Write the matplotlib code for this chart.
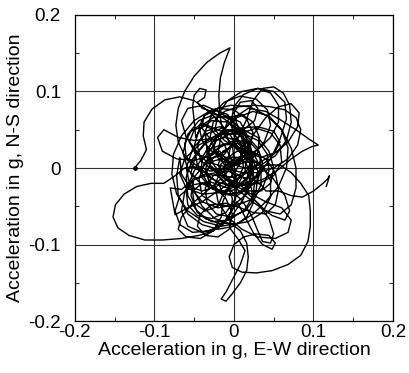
import numpy as np
import matplotlib
matplotlib.use("Agg")
import matplotlib.pyplot as plt
from matplotlib.ticker import MultipleLocator

# Acceleration orbit, (E-W, N-S) in g in pieces
seg_start = [(-0.125, 0.000), (-0.117, 0.010), (-0.110, 0.024), (-0.114, 0.042), (-0.113, 0.060),
             (-0.103, 0.077), (-0.087, 0.089), (-0.068, 0.093), (-0.050, 0.088), (-0.034, 0.076),
             (-0.018, 0.060), (-0.004, 0.042), (0.008, 0.022), (0.012, 0.002), (0.004, -0.018),
             (-0.012, -0.030), (-0.030, -0.026), (-0.042, -0.010), (-0.040, 0.010), (-0.028, 0.026),
             (-0.010, 0.032), (0.008, 0.026), (0.020, 0.010), (0.024, -0.012), (0.016, -0.034),
             (0.000, -0.048), (-0.020, -0.052), (-0.040, -0.044), (-0.055, -0.025), (-0.060, 0.000),
             (-0.052, 0.025), (-0.036, 0.044), (-0.015, 0.052)]
seg_flame = [(-0.018, 0.072), (-0.019, 0.095), (-0.017, 0.118), (-0.012, 0.138), (-0.005, 0.157),
             (-0.018, 0.150), (-0.034, 0.138), (-0.050, 0.120), (-0.062, 0.100), (-0.070, 0.078),
             (-0.073, 0.056), (-0.070, 0.034), (-0.062, 0.016), (-0.048, 0.004), (-0.030, -0.004),
             (-0.012, -0.002), (0.004, 0.008), (0.014, 0.024), (0.016, 0.044), (0.008, 0.060),
             (-0.008, 0.068), (-0.026, 0.066), (-0.040, 0.056), (-0.048, 0.040)]
seg_bump = [(-0.050, 0.062), (-0.052, 0.080), (-0.050, 0.095), (-0.043, 0.104), (-0.035, 0.102),
            (-0.037, 0.092), (-0.046, 0.086), (-0.040, 0.078), (-0.028, 0.074), (-0.012, 0.064),
            (0.006, 0.050), (0.018, 0.030), (0.022, 0.008), (0.016, -0.014), (0.002, -0.028),
            (-0.016, -0.032), (-0.030, -0.022), (-0.034, -0.004), (-0.026, 0.014), (-0.010, 0.022)]
seg_ne = [(0.006, 0.040), (0.016, 0.064), (0.024, 0.088), (0.036, 0.104), (0.050, 0.106),
          (0.062, 0.098), (0.070, 0.082), (0.072, 0.060), (0.066, 0.036), (0.052, 0.016),
          (0.034, 0.004), (0.014, 0.000), (-0.006, 0.006), (-0.022, 0.020), (-0.030, 0.040),
          (-0.026, 0.060), (-0.012, 0.074), (0.006, 0.080), (0.026, 0.082), (0.046, 0.080),
          (0.064, 0.076), (0.078, 0.066), (0.084, 0.050), (0.080, 0.030), (0.068, 0.012),
          (0.050, 0.000), (0.030, -0.006), (0.010, -0.006), (-0.010, 0.000)]
seg_tip = [(-0.020, 0.020), (-0.016, 0.044), (-0.002, 0.064), (0.018, 0.078), (0.040, 0.074),
           (0.060, 0.062), (0.078, 0.050), (0.094, 0.038), (0.106, 0.030), (0.098, 0.028),
           (0.086, 0.022), (0.072, 0.012), (0.056, -0.002), (0.038, -0.014), (0.018, -0.022),
           (-0.002, -0.024), (-0.022, -0.018), (-0.038, -0.004)]
seg_left = [(-0.050, 0.002), (-0.062, 0.000), (-0.074, -0.010), (-0.088, -0.020), (-0.104, -0.020),
            (-0.122, -0.024), (-0.138, -0.034), (-0.149, -0.048), (-0.152, -0.064), (-0.146, -0.078),
            (-0.132, -0.088), (-0.112, -0.094), (-0.090, -0.094), (-0.066, -0.092), (-0.044, -0.088),
            (-0.026, -0.082), (-0.012, -0.072), (-0.004, -0.058), (-0.002, -0.040), (-0.008, -0.022),
            (-0.020, -0.010), (-0.036, -0.008), (-0.052, -0.016), (-0.066, -0.028), (-0.080, -0.026),
            (-0.074, -0.061), (-0.058, -0.052), (-0.040, -0.044)]
seg_se = [(-0.020, -0.030), (0.000, -0.016), (0.020, -0.004), (0.040, 0.004), (0.058, 0.004),
          (0.072, -0.006), (0.084, -0.020), (0.094, -0.036), (0.096, -0.056), (0.096, -0.076),
          (0.093, -0.096), (0.084, -0.114), (0.068, -0.126), (0.048, -0.134), (0.028, -0.137),
          (0.010, -0.136), (-0.002, -0.130), (-0.006, -0.116), (0.000, -0.100), (0.012, -0.090),
          (0.028, -0.086), (0.044, -0.088), (0.052, -0.098), (0.048, -0.106), (0.036, -0.100),
          (0.024, -0.084), (0.014, -0.064), (0.004, -0.044)]
seg_tail = [(-0.006, -0.062), (-0.004, -0.080), (0.006, -0.094), (0.014, -0.108), (0.008, -0.126),
            (-0.002, -0.146), (-0.010, -0.162), (-0.016, -0.171), (-0.010, -0.174), (-0.002, -0.164),
            (0.008, -0.150), (0.016, -0.134), (0.018, -0.116), (0.016, -0.098), (0.008, -0.082),
            (-0.004, -0.072), (-0.020, -0.072), (-0.036, -0.066), (-0.048, -0.054)]
seg_core1 = [(-0.058, -0.036), (-0.060, -0.012), (-0.052, 0.012), (-0.036, 0.032), (-0.014, 0.044),
             (0.010, 0.046), (0.030, 0.036), (0.042, 0.018), (0.044, -0.004), (0.036, -0.026),
             (0.020, -0.042), (0.000, -0.050), (-0.022, -0.048), (-0.040, -0.036), (-0.044, -0.014),
             (-0.036, 0.008), (-0.020, 0.026), (0.000, 0.036), (0.020, 0.034), (0.032, 0.020),
             (0.034, 0.000), (0.024, -0.016), (0.006, -0.022), (-0.012, -0.014), (-0.020, 0.004),
             (-0.014, 0.022), (0.002, 0.030)]
seg_core2 = [(0.020, 0.018), (0.030, -0.004), (0.028, -0.030), (0.014, -0.054), (-0.006, -0.068),
             (-0.028, -0.070), (-0.046, -0.058), (-0.054, -0.036), (-0.050, -0.012), (-0.036, 0.006),
             (-0.016, 0.012), (0.004, 0.006), (0.022, 0.016), (0.038, 0.034), (0.046, 0.056),
             (0.042, 0.076), (0.028, 0.090), (0.008, 0.094), (-0.012, 0.086), (-0.028, 0.070),
             (-0.036, 0.048), (-0.034, 0.024), (-0.024, 0.002), (-0.008, -0.014), (0.012, -0.022),
             (0.032, -0.020), (0.050, -0.010), (0.060, 0.008), (0.058, 0.030), (0.046, 0.046),
             (0.028, 0.052), (0.010, 0.046)]
seg_core3 = [(-0.004, 0.030), (-0.008, 0.008), (0.000, -0.014), (0.018, -0.032), (0.040, -0.044),
             (0.060, -0.052), (0.072, -0.068), (0.068, -0.084), (0.052, -0.092), (0.030, -0.090),
             (0.010, -0.080), (-0.008, -0.064), (-0.020, -0.044), (-0.024, -0.022), (-0.016, -0.002),
             (0.000, 0.010), (0.020, 0.012), (0.036, 0.002), (0.046, -0.016), (0.046, -0.038),
             (0.036, -0.058), (0.018, -0.070), (-0.004, -0.074), (-0.024, -0.066), (-0.040, -0.050)]
seg_core4 = [(-0.050, -0.030), (-0.054, -0.006), (-0.048, 0.018), (-0.034, 0.036), (-0.014, 0.046),
             (0.006, 0.044), (0.020, 0.032), (0.024, 0.014), (0.016, -0.004), (0.000, -0.012),
             (-0.018, -0.010), (-0.030, 0.002), (-0.032, 0.020), (-0.022, 0.036), (-0.006, 0.044),
             (0.012, 0.050), (0.026, 0.062), (0.030, 0.078), (0.022, 0.088), (0.008, 0.086),
             (0.000, 0.072), (0.004, 0.056), (0.016, 0.042), (0.030, 0.026), (0.036, 0.006),
             (0.030, -0.016), (0.014, -0.030), (-0.006, -0.034), (-0.026, -0.028)]
seg_core5 = [(-0.044, -0.018), (-0.058, -0.002), (-0.064, 0.020), (-0.058, 0.044), (-0.044, 0.062),
             (-0.024, 0.070), (-0.004, 0.064), (0.010, 0.048), (0.014, 0.028), (0.006, 0.010),
             (-0.010, 0.000), (-0.028, -0.002), (-0.042, 0.010), (-0.046, 0.030), (-0.036, 0.048),
             (-0.018, 0.054), (0.000, 0.046), (0.010, 0.028), (0.008, 0.006), (-0.004, -0.012),
             (-0.022, -0.024), (-0.040, -0.030), (-0.056, -0.024), (-0.066, -0.008), (-0.068, 0.014)]
seg_core6 = [(-0.072, -0.010), (-0.070, -0.036), (-0.058, -0.060), (-0.040, -0.074), (-0.020, -0.080),
             (0.000, -0.076), (0.016, -0.064), (0.024, -0.046), (0.022, -0.026), (0.010, -0.010),
             (-0.008, -0.004), (-0.026, -0.010), (-0.036, -0.026), (-0.034, -0.046), (-0.022, -0.060),
             (-0.004, -0.064), (0.014, -0.056), (0.026, -0.040)]
seg_core7 = [(0.034, -0.022), (0.034, 0.000), (0.024, 0.020), (0.006, 0.032), (-0.014, 0.030),
             (-0.030, 0.018), (-0.036, -0.002), (-0.030, -0.022), (-0.014, -0.034), (0.004, -0.036),
             (0.018, -0.026), (0.022, -0.008), (0.014, 0.008), (-0.002, 0.014), (-0.016, 0.006),
             (-0.020, -0.010), (-0.010, -0.022), (0.006, -0.020), (0.014, -0.004), (0.016, 0.020),
             (0.008, 0.044), (-0.008, 0.060), (-0.028, 0.062), (-0.044, 0.050), (-0.050, 0.028),
             (-0.046, 0.004), (-0.034, -0.018), (-0.018, -0.032), (0.000, -0.036), (0.014, -0.026),
             (0.018, -0.008)]
seg_core8 = [(0.030, 0.006), (0.050, 0.018), (0.058, 0.034), (0.050, 0.048), (0.030, 0.054),
             (0.006, 0.052), (-0.020, 0.044), (-0.044, 0.030), (-0.062, 0.012), (-0.068, -0.008),
             (-0.060, -0.026), (-0.040, -0.034), (-0.016, -0.032), (0.006, -0.022), (0.024, -0.006),
             (0.022, 0.022), (0.006, 0.036), (-0.012, 0.040), (-0.028, 0.034), (-0.034, 0.020),
             (-0.028, 0.006), (-0.012, 0.002), (0.000, 0.012), (-0.002, 0.030), (-0.016, 0.048),
             (-0.034, 0.056), (-0.050, 0.050), (-0.056, 0.034), (-0.048, 0.018), (-0.030, 0.012),
             (-0.012, 0.018), (0.000, 0.034), (0.002, 0.054), (-0.008, 0.070), (-0.024, 0.076),
             (-0.038, 0.068), (-0.040, 0.052), (-0.030, 0.038)]
seg_core9 = [(-0.050, 0.036), (-0.070, 0.040), (-0.088, 0.050), (-0.096, 0.040), (-0.090, 0.022),
             (-0.072, 0.012), (-0.050, 0.010), (-0.030, 0.016), (-0.018, 0.022), (-0.004, 0.004),
             (0.004, -0.018), (0.002, -0.040), (-0.010, -0.058), (-0.028, -0.066), (-0.046, -0.062),
             (-0.058, -0.048), (-0.060, -0.030), (-0.050, -0.014), (-0.034, -0.010), (-0.020, -0.018),
             (-0.014, -0.034), (-0.020, -0.050), (-0.036, -0.056), (-0.050, -0.046), (-0.052, -0.030),
             (-0.040, -0.020), (-0.024, -0.024), (-0.010, -0.040), (-0.002, -0.060), (-0.006, -0.080),
             (-0.020, -0.090), (-0.036, -0.088), (-0.046, -0.076), (-0.042, -0.060), (-0.028, -0.048),
             (-0.010, -0.046), (0.008, -0.052)]
seg_core10 = [(0.024, -0.058), (0.040, -0.060), (0.052, -0.048), (0.056, -0.028), (0.052, -0.006),
              (0.040, 0.012), (0.022, 0.022), (0.004, 0.022), (-0.010, 0.012), (-0.012, -0.006),
              (-0.002, -0.022), (0.016, -0.030), (0.034, -0.030), (0.046, -0.020), (0.050, 0.000),
              (0.044, 0.022), (0.030, 0.040), (0.012, 0.050), (-0.008, 0.050), (-0.022, 0.040),
              (-0.026, 0.024), (-0.018, 0.010), (0.000, 0.004), (0.018, 0.008), (0.030, 0.020),
              (0.032, 0.040), (0.024, 0.060), (0.010, 0.070), (-0.006, 0.066), (-0.012, 0.050),
              (-0.006, 0.034), (0.008, 0.020), (0.022, 0.004), (0.026, -0.016), (0.024, -0.040)]
seg_core11 = [(0.040, -0.056), (0.058, -0.060), (0.072, -0.048), (0.078, -0.026), (0.078, 0.000),
              (0.072, 0.026), (0.060, 0.050), (0.042, 0.068), (0.020, 0.080), (-0.004, 0.082),
              (-0.028, 0.076), (-0.050, 0.062), (-0.066, 0.042), (-0.076, 0.018), (-0.078, -0.008),
              (-0.072, -0.034), (-0.058, -0.056), (-0.038, -0.070), (-0.016, -0.076), (0.006, -0.072),
              (0.024, -0.060)]
seg_core12 = [(0.040, -0.044), (0.056, -0.024), (0.066, 0.000), (0.068, 0.026), (0.060, 0.050),
              (0.044, 0.068), (0.024, 0.074), (0.004, 0.066), (-0.016, 0.048), (-0.034, 0.024),
              (-0.050, -0.004), (-0.062, -0.032), (-0.066, -0.056), (-0.058, -0.076), (-0.040, -0.084),
              (-0.020, -0.078), (-0.002, -0.062), (0.012, -0.040), (0.020, -0.014), (0.022, 0.012)]
seg_core13 = [(0.018, 0.036), (0.004, 0.056), (-0.016, 0.072), (-0.038, 0.082), (-0.058, 0.078),
              (-0.066, 0.062), (-0.060, 0.040), (-0.044, 0.018), (-0.022, -0.004), (0.002, -0.026),
              (0.026, -0.046), (0.048, -0.062), (0.064, -0.068), (0.070, -0.056), (0.064, -0.036),
              (0.048, -0.012), (0.028, 0.008), (0.008, 0.024), (-0.012, 0.036)]
seg_core14 = [(-0.024, 0.050), (-0.020, 0.070), (-0.008, 0.088), (0.010, 0.100), (0.030, 0.104),
              (0.046, 0.098), (0.056, 0.082), (0.056, 0.060), (0.046, 0.040), (0.030, 0.024),
              (0.010, 0.014), (-0.010, 0.014), (-0.028, 0.022), (-0.040, 0.036), (-0.044, 0.054),
              (-0.036, 0.070), (-0.020, 0.078), (0.000, 0.076), (0.016, 0.064), (0.024, 0.046),
              (0.020, 0.026), (0.006, 0.008), (-0.012, -0.004), (-0.032, -0.008), (-0.050, 0.000),
              (-0.060, 0.014), (-0.062, 0.032), (-0.054, 0.048), (-0.040, 0.058)]
seg_core15 = [(-0.030, 0.052), (-0.012, 0.030), (0.000, 0.004), (0.004, -0.024), (0.000, -0.050),
              (-0.012, -0.070), (-0.030, -0.082), (-0.052, -0.084), (-0.068, -0.074), (-0.074, -0.056),
              (-0.068, -0.036), (-0.052, -0.022), (-0.030, -0.018), (-0.008, -0.026), (0.010, -0.042),
              (0.022, -0.062), (0.030, -0.082), (0.036, -0.096), (0.046, -0.098), (0.050, -0.086),
              (0.044, -0.066), (0.030, -0.046), (0.012, -0.028)]
seg_core16 = [(0.030, -0.010), (0.046, 0.012), (0.058, 0.038), (0.066, 0.064), (0.064, 0.086),
              (0.050, 0.100), (0.030, 0.104), (0.012, 0.096), (0.000, 0.080), (-0.004, 0.058),
              (0.002, 0.036), (0.016, 0.020), (0.034, 0.014), (0.052, 0.020), (0.068, 0.034),
              (0.080, 0.054), (0.082, 0.072), (0.072, 0.084), (0.056, 0.080), (0.040, 0.066),
              (0.026, 0.046), (0.014, 0.024), (0.000, 0.004), (-0.016, -0.014), (-0.034, -0.030),
              (-0.052, -0.046), (-0.066, -0.064), (-0.070, -0.080), (-0.060, -0.090), (-0.042, -0.092),
              (-0.026, -0.082), (-0.016, -0.064), (-0.014, -0.044), (-0.006, -0.024), (0.008, -0.012),
              (0.024, -0.014), (0.036, -0.024)]
seg_end = [(0.040, -0.030), (0.056, -0.030), (0.072, -0.036), (0.086, -0.038), (0.100, -0.030),
           (0.112, -0.020), (0.118, -0.014), (0.120, -0.010), (0.118, -0.018), (0.116, -0.024)]

segments = [seg_start, seg_flame, seg_bump, seg_ne, seg_tip, seg_left, seg_se, seg_tail,
            seg_core1, seg_core2, seg_core3, seg_core4, seg_core5, seg_core6, seg_core7,
            seg_core8, seg_core9, seg_core10, seg_core11, seg_core12, seg_core13, seg_core14,
            seg_core15, seg_core16, seg_end]
orbit = np.array([p for seg in segments for p in seg])
ew, ns = orbit[:, 0], orbit[:, 1]

ticks = [-0.2, -0.1, 0, 0.1, 0.2]
tick_labels = ['-0.2', '-0.1', '0', '0.1', '0.2']

plt.rcParams['font.family'] = ['Liberation Sans', 'DejaVu Sans']

fig = plt.figure(figsize=(4.09, 3.73), dpi=100)
ax = fig.add_axes([0.183, 0.139, 0.778, 0.821])

ax.plot(ew, ns, color='black', lw=1.0, solid_joinstyle='round')
ax.plot(ew[0], ns[0], 'o', color='black', ms=2.5)

ax.set_xlim(-0.2, 0.2)
ax.set_ylim(-0.2, 0.2)
ax.set_xticks(ticks, tick_labels)
ax.set_yticks(ticks, tick_labels)
ax.xaxis.set_minor_locator(MultipleLocator(0.05))
ax.yaxis.set_minor_locator(MultipleLocator(0.05))
ax.grid(True, which='major', color='#333333', lw=0.8)
ax.tick_params(which='both', direction='in', top=True, right=True, labelsize=13.5)
ax.tick_params(axis='y', which='major', length=0, pad=10)
ax.tick_params(axis='x', which='major', length=0, pad=2)
ax.tick_params(which='minor', length=3, width=0.6)
for s in ax.spines.values():
    s.set_linewidth(0.9)

ax.set_xlabel('Acceleration in g, E-W direction', fontsize=14, labelpad=1)
ax.set_ylabel('Acceleration in g, N-S direction', fontsize=14, labelpad=3)

fig.savefig('out.png', dpi=100)
